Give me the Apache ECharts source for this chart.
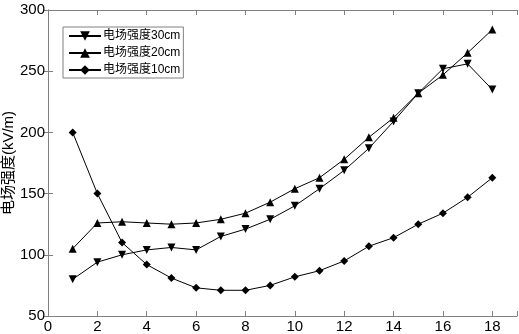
<!DOCTYPE html>
<html>
<head>
<meta charset="utf-8">
<script src="https://cdn.jsdelivr.net/npm/echarts@6/dist/echarts.min.js"></script>
<style>
html, body { margin: 0; padding: 0; background: #fff; }
#main { width: 519px; height: 334px; }
</style>
</head>
<body>
<div id="main"></div>
<script>
// 横坐标
var xs = [1, 2, 3, 4, 5, 6, 7, 8, 9, 10, 11, 12, 13, 14, 15, 16, 17, 18];
// 电场强度 (kV/m)
var e30 = [80, 94, 100, 104, 106, 104, 115, 121, 129, 140, 154, 169, 187, 209, 232, 252, 256, 235];
var e20 = [105, 126, 127, 126, 125, 126, 129, 134, 143, 154, 163, 178, 196, 212, 232, 247, 265, 284];
var e10 = [200, 150, 110, 92, 81, 73, 71, 71, 75, 82, 87, 95, 107, 114, 125, 134, 147, 163];
var seriesNames = ['电场强度30cm', '电场强度20cm', '电场强度10cm'];
var xTicks = [0, 2, 4, 6, 8, 10, 12, 14, 16, 18];
var yTicks = [50, 100, 150, 200, 250, 300];

var font = 'Liberation Sans, Arial, Noto Sans CJK SC, sans-serif';

function pairs(vals)
{
	return xs.map(function(x, i) { return [x, vals[i]]; });
}

function lineSeries(name, vals, symbol, rotate)
{
	return {
		name: name,
		type: 'line',
		data: pairs(vals),
		symbol: symbol,
		symbolSize: 8,
		symbolRotate: rotate,
		lineStyle: { color: '#000', width: 1 },
		itemStyle: { color: '#000' },
		emphasis: { disabled: true },
		animation: false
	};
}

var axisLine = { show: true, lineStyle: { color: '#808080', width: 1 } };
var tickIn = { show: true, inside: true, length: 5, lineStyle: { color: '#808080' } };

var chart = echarts.init(document.getElementById('main'));
chart.setOption({
	backgroundColor: '#fff',
	animation: false,
	grid: { left: 48, right: 2, top: 10, bottom: 18, containLabel: false, outerBoundsMode: 'none' },
	legend:
	{
		left: 63, top: 27,
		orient: 'vertical',
		data: seriesNames,
		itemWidth: 32, itemHeight: 12,
		itemGap: 5,
		padding: [3, 3, 2, 5],
		borderColor: '#808080', borderWidth: 1,
		backgroundColor: '#fff',
		textStyle: { fontFamily: font, fontSize: 12, color: '#000', padding: [0, 0, 0, -3] }
	},
	xAxis:
	[
		{
			type: 'value', min: 0, max: 19, interval: 2,
			axisLine: axisLine, axisTick: tickIn, splitLine: { show: false },
			axisLabel: {
				fontFamily: font, fontSize: 15, color: '#000', margin: 3,
				formatter: function(v) { return xTicks.indexOf(v) >= 0 ? v : ''; }
			}
		},
		{
			type: 'value', position: 'top', min: 0, max: 19, interval: 2,
			axisLine: axisLine, axisTick: tickIn, splitLine: { show: false },
			axisLabel: { show: false }
		}
	],
	yAxis:
	[
		{
			type: 'value', min: 50, max: 300, interval: 50,
			name: '电场强度(kV/m)', nameLocation: 'middle', nameGap: 32,
			nameMoveOverlap: false,
			nameTextStyle: { fontFamily: font, fontSize: 15, color: '#000' },
			axisLine: axisLine, axisTick: tickIn, splitLine: { show: false },
			axisLabel: {
				fontFamily: font, fontSize: 15, color: '#000', margin: 3,
				formatter: function(v) { return yTicks.indexOf(v) >= 0 ? v : ''; }
			}
		},
		{
			type: 'value', position: 'right', min: 50, max: 300, interval: 50,
			axisLine: axisLine, axisTick: tickIn, splitLine: { show: false },
			axisLabel: { show: false }
		}
	],
	series:
	[
		lineSeries(seriesNames[0], e30, 'triangle', 180),
		lineSeries(seriesNames[1], e20, 'triangle', 0),
		lineSeries(seriesNames[2], e10, 'diamond', 0)
	]
});
</script>
</body>
</html>
